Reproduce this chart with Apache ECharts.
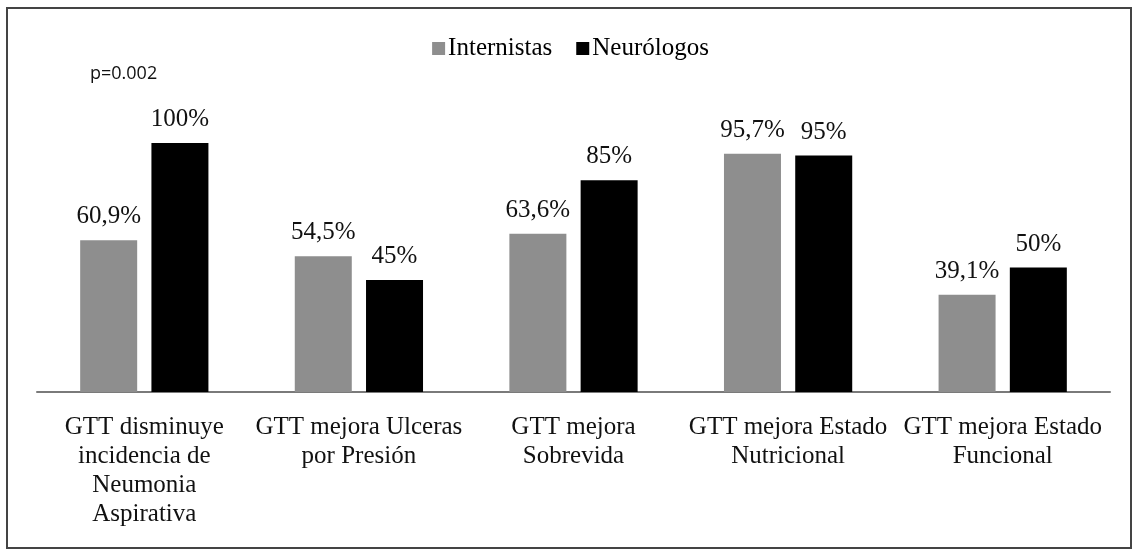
<!DOCTYPE html>
<html>
<head>
<meta charset="utf-8">
<script src="https://cdn.jsdelivr.net/npm/echarts@6/dist/echarts.min.js"></script>
<style>
  html,body{margin:0;padding:0;background:#fff;}
  #main{width:1141px;height:551px;}
</style>
</head>
<body>
<div id="main"></div>
<script>
// datos del grafico
let categorias=[
  'GTT disminuye\nincidencia de\nNeumonia\nAspirativa',
  'GTT mejora Ulceras\npor Presión',
  'GTT mejora\nSobrevida',
  'GTT mejora Estado\nNutricional',
  'GTT mejora Estado\nFuncional'
];
let internistas=[60.9,54.5,63.6,95.7,39.1];
let neurologos=[100,45,85,95,50];
let nota='p=0.002';

let chart=echarts.init(document.getElementById('main'),null,{renderer:'canvas'});
const serif='Liberation Serif';

function etiqueta(p){
  return String(p.value).replace('.',',')+'%';
}

let option={
  animation:false,
  backgroundColor:'#fff',
  textStyle:{fontFamily:serif},
  legend:{
    top:31,
    left:'center',
    itemWidth:13,
    itemHeight:13,
    itemGap:24,
    icon:'rect',
    textStyle:{fontFamily:serif,fontSize:25,color:'#000',padding:[0,0,0,-2]},
    data:['Internistas','Neurólogos']
  },
  grid:{
    left:37,
    right:31,
    top:143,
    bottom:159,
    containLabel:false
  },
  xAxis:{
    type:'category',
    data:categorias,
    axisLine:{show:true,lineStyle:{color:'#7a7a7a',width:2}},
    axisTick:{show:false},
    axisLabel:{
      interval:0,
      margin:21,
      fontFamily:serif,
      fontSize:25,
      lineHeight:29,
      color:'#111',
      align:'center'
    }
  },
  yAxis:{
    type:'value',
    min:0,
    max:100,
    show:false,
    splitLine:{show:false}
  },
  series:[
    {
      name:'Internistas',
      type:'bar',
      data:internistas,
      barWidth:57,
      barGap:'25%',
      itemStyle:{color:'#8e8e8e'},
      label:{show:true,position:'top',distance:11,formatter:etiqueta,fontFamily:serif,fontSize:25,color:'#111'}
    },
    {
      name:'Neurólogos',
      type:'bar',
      data:neurologos,
      barWidth:57,
      barGap:'25%',
      itemStyle:{color:'#000'},
      label:{show:true,position:'top',distance:11,formatter:etiqueta,fontFamily:serif,fontSize:25,color:'#111'}
    }
  ],
  graphic:[
    {
      type:'rect',
      shape:{x:7,y:8,width:1124,height:540},
      style:{fill:'none',stroke:'#444',lineWidth:2},
      silent:true
    },
    {
      type:'text',
      x:90,
      y:65,
      style:{text:nota,fontFamily:'Open Sans',fontSize:18,fill:'#111'}
    }
  ]
};
chart.setOption(option);
</script>
</body>
</html>
